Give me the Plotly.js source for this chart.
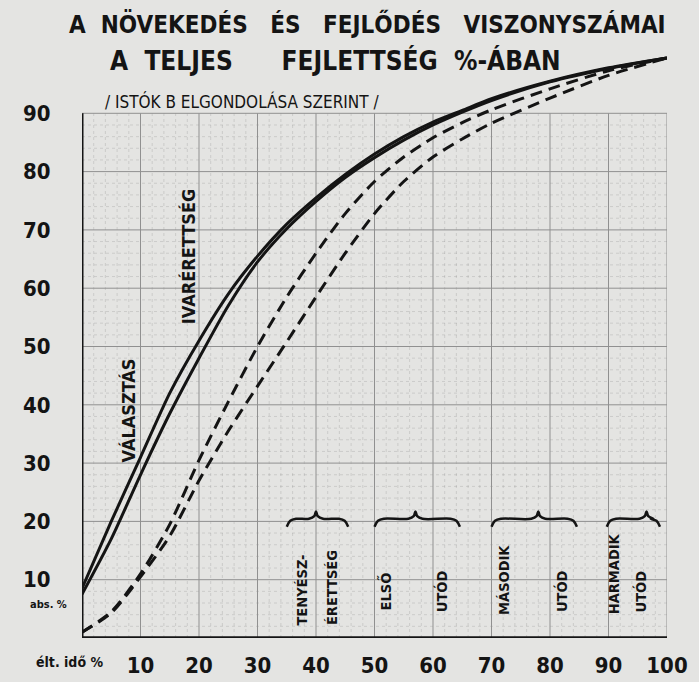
<!DOCTYPE html>
<html>
<head>
<meta charset="utf-8">
<script src="https://cdn.plot.ly/plotly-3.0.1.min.js"></script>
<style>
html,body{margin:0;padding:0;background:#e4e4e2;}
#chart{width:699px;height:682px;}
</style>
</head>
<body>
<div id="chart"></div>
<script>
// ---- data ----
var lifeTime = [0, 5, 10, 15, 20, 25, 30, 35, 40, 45, 50, 55, 60, 65, 70, 80, 90, 100];
var solidUpper = [8.5, 20, 31, 42, 51, 59, 65.5, 71, 75.5, 79.5, 83, 86, 88.5, 90.5, 92.5, 95.5, 97.8, 99.5];
var solidLower = [7.5, 17, 28, 38.5, 48, 57, 64.5, 70.2, 74.9, 79, 82.4, 85.4, 88, 90.2, 92.2, 95.4, 97.7, 99.5];
var dashedUpper = [1, 4.5, 11, 19.5, 30.5, 40.5, 50, 58.5, 66, 72.8, 78.3, 82.5, 85.8, 88.4, 90.6, 94.2, 97.3, 99.5];
var dashedLower = [1, 4.3, 10.5, 17.5, 27, 35.5, 43.2, 50.8, 58.5, 66, 72.8, 78.3, 82.5, 85.6, 88.3, 92.6, 96.5, 99.5];

var xTicks = [10, 20, 30, 40, 50, 60, 70, 80, 90, 100];
var yTicks = [10, 20, 30, 40, 50, 60, 70, 80, 90];

// braces above the 20 line (start, peak, end on the time axis)
var braceStart = [35, 50, 70, 89.7];
var bracePeak = [40, 57, 78, 96.5];
var braceEnd = [45.5, 64.6, 84.6, 98.8];
var braceLevel = 20;

// vertical stage labels (text, time %, development %)
var stageText = ['VÁLASZTÁS', 'IVARÉRETTSÉG', 'TENYÉSZ-', 'ÉRETTSÉG', 'ELSŐ', 'UTÓD', 'MÁSODIK', 'UTÓD', 'HARMADIK', 'UTÓD'];
var stageTime = [8, 18.2, 37.6, 42.7, 51.8, 61.5, 72, 82, 91, 95.4];
var stageLevel = [39, 65.4, 8.3, 8.7, 8, 8, 10, 8, 11, 8];

var xMax = 100, yGridMax = 90, yMax = 100;

// ---- build ----
var narrow = 'DejaVu Sans Condensed, Liberation Sans Narrow, Arial Narrow, sans-serif';
var ink = '#141414';
var traces = [];
function curve(y, dash) {
  return {x: lifeTime, y: y, type: 'scatter', mode: 'lines',
    line: {color: ink, width: 3, shape: 'spline', smoothing: 0.7, dash: dash},
    hoverinfo: 'skip', showlegend: false, cliponaxis: false};
}
traces.push(curve(solidUpper, 'solid'));
traces.push(curve(solidLower, 'solid'));
traces.push(curve(dashedUpper, '12px,7px'));
traces.push(curve(dashedLower, '12px,7px'));

for (var i = 0; i < braceStart.length; i++) {
  var s = braceStart[i], p = bracePeak[i], e = braceEnd[i], b = braceLevel;
  traces.push({
    x: [s, s + 0.6, s + 1.6, p - 1.2, p - 0.3, p, p + 0.3, p + 1.2, e - 1.6, e - 0.6, e],
    y: [b - 0.9, b + 0.1, b + 0.45, b + 0.45, b + 0.9, b + 1.7, b + 0.9, b + 0.45, b + 0.45, b + 0.1, b - 0.9],
    type: 'scatter', mode: 'lines', line: {color: ink, width: 2.5, shape: 'spline'},
    hoverinfo: 'skip', showlegend: false
  });
}

var shapes = [];
// fine graph-paper grid
for (var gx = 2; gx < xMax; gx += 2) {
  if (gx % 10 === 0) continue;
  shapes.push({type: 'line', xref: 'x', yref: 'y', x0: gx, x1: gx, y0: 0, y1: yGridMax, layer: 'below',
    line: {color: 'rgba(120,120,120,0.22)', width: 1, dash: 'dot'}});
}
for (var gy = 2; gy < yGridMax; gy += 2) {
  if (gy % 10 === 0) continue;
  shapes.push({type: 'line', xref: 'x', yref: 'y', x0: 0, x1: xMax, y0: gy, y1: gy, layer: 'below',
    line: {color: 'rgba(120,120,120,0.22)', width: 1, dash: 'dot'}});
}
// main grid
xTicks.forEach(function (v) {
  shapes.push({type: 'line', xref: 'x', yref: 'y', x0: v, x1: v, y0: 0, y1: yGridMax, layer: 'below',
    line: {color: '#909090', width: 1}});
});
yTicks.forEach(function (v) {
  shapes.push({type: 'line', xref: 'x', yref: 'y', x0: 0, x1: xMax, y0: v, y1: v, layer: 'below',
    line: {color: '#909090', width: 1}});
});
// axes
shapes.push({type: 'line', xref: 'x', yref: 'y', x0: 0, x1: 0, y0: 0, y1: yGridMax, line: {color: ink, width: 3}});
shapes.push({type: 'line', xref: 'x', yref: 'y', x0: 0, x1: xMax, y0: 0, y1: 0, line: {color: ink, width: 3.5}});

var annotations = [];
for (var k = 0; k < stageText.length; k++) {
  annotations.push({x: stageTime[k], y: stageLevel[k], xref: 'x', yref: 'y', text: stageText[k],
    showarrow: false, textangle: -90,
    font: {family: narrow, size: k < 2 ? 18 : 14.5, weight: 'bold', color: ink}});
}
function nb(n) { return new Array(n + 1).join('\u00A0'); }
function px2x(px) { return (px - 82) / 585; }
function py2y(py) { return (638 - py) / 583; }
annotations.push({xref: 'paper', yref: 'paper', x: px2x(28), y: py2y(604), xanchor: 'left', yanchor: 'middle', showarrow: false,
  text: 'abs. %', font: {family: narrow, size: 11, weight: 'bold', color: ink}});
annotations.push({xref: 'paper', yref: 'paper', x: px2x(34), y: py2y(662), xanchor: 'left', yanchor: 'middle', showarrow: false,
  text: 'élt. idő %', font: {family: narrow, size: 14, weight: 'bold', color: ink}});
// title lines
annotations.push({xref: 'paper', yref: 'paper', x: px2x(367), y: py2y(24), xanchor: 'center', yanchor: 'middle', showarrow: false,
  text: 'A' + nb(2) + 'NÖVEKEDÉS' + nb(3) + 'ÉS' + nb(3) + 'FEJLŐDÉS' + nb(3) + 'VISZONYSZÁMAI',
  font: {family: narrow, size: 24, weight: 'bold', color: ink}});
annotations.push({xref: 'paper', yref: 'paper', x: px2x(335), y: py2y(60), xanchor: 'center', yanchor: 'middle', showarrow: false,
  text: 'A' + nb(2) + 'TELJES' + nb(6) + 'FEJLETTSÉG' + nb(2) + '%-ÁBAN',
  font: {family: narrow, size: 26, weight: 'bold', color: ink}});
annotations.push({xref: 'paper', yref: 'paper', x: px2x(242), y: py2y(101), xanchor: 'center', yanchor: 'middle', showarrow: false,
  text: '/ ISTÓK B ELGONDOLÁSA SZERINT /',
  font: {family: narrow, size: 17, color: ink}});

var layout = {
  width: 699, height: 682,
  margin: {l: 82, r: 32, t: 55, b: 44},
  paper_bgcolor: '#e4e4e2', plot_bgcolor: '#e4e4e2',
  showlegend: false,
  xaxis: {range: [0, xMax], showgrid: false, zeroline: false, showline: false,
    tickvals: xTicks, ticktext: xTicks.map(String), ticks: 'outside', ticklen: 8, tickcolor: 'rgba(0,0,0,0)',
    tickfont: {family: narrow, size: 22, weight: 'bold', color: ink}, fixedrange: true},
  yaxis: {range: [0, yMax], showgrid: false, zeroline: false, showline: false,
    tickvals: yTicks, ticktext: yTicks.map(String), ticks: 'outside', ticklen: 26, tickcolor: 'rgba(0,0,0,0)',
    tickfont: {family: narrow, size: 22, weight: 'bold', color: ink}, fixedrange: true},
  shapes: shapes,
  annotations: annotations
};
Plotly.newPlot('chart', traces, layout, {displayModeBar: false, staticPlot: true});
</script>
</body>
</html>
